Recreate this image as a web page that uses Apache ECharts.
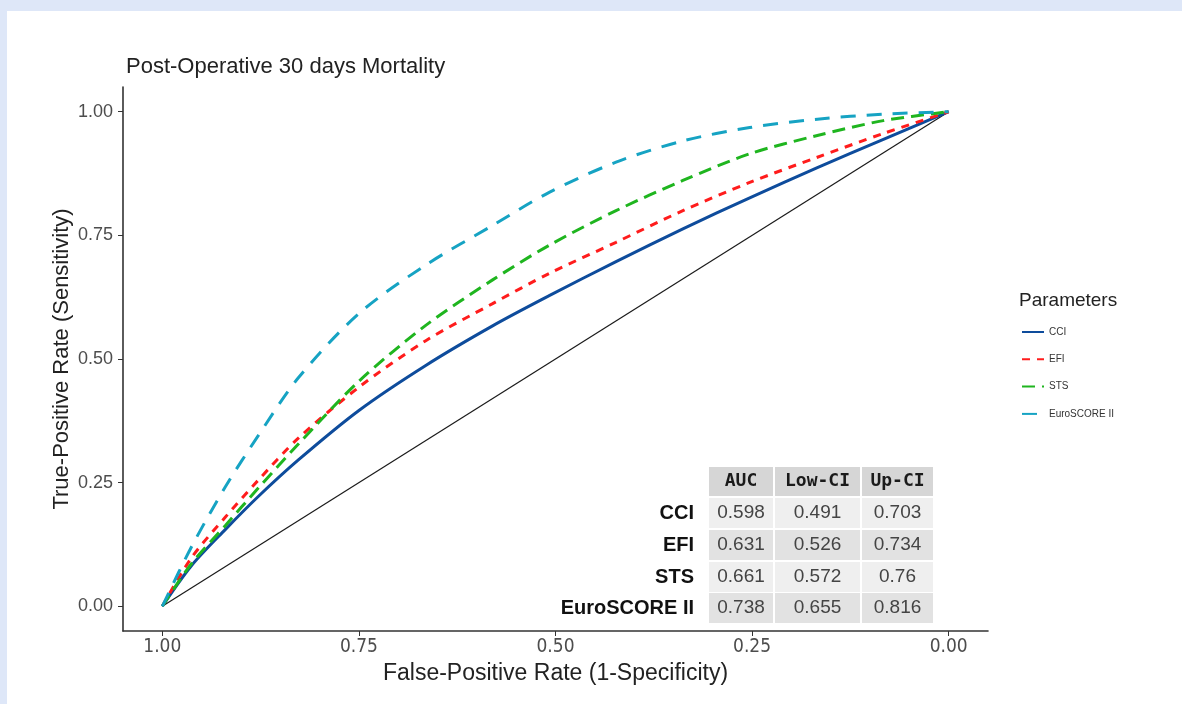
<!DOCTYPE html>
<html>
<head>
<meta charset="utf-8">
<script src="https://cdn.jsdelivr.net/npm/echarts@6/dist/echarts.min.js"></script>
<style>
html, body { margin: 0; padding: 0; background: #dee7f8; }
#panel { position: absolute; left: 7px; top: 11px; right: 0; bottom: 0; background: #fff; }
#chart { position: absolute; left: 0; top: 0; width: 1182px; height: 704px; }
</style>
</head>
<body>
<div id="panel"></div>
<div id="chart"></div>
<script>
// specificity (x, shown 1 -> 0) and sensitivity per score
const specificity = [1, 0.963, 0.92, 0.878, 0.827, 0.75, 0.665, 0.58, 0.508, 0.423, 0.338, 0.253, 0.167, 0.083, 0];
const cciSens  = [0, 0.082, 0.155, 0.222, 0.296, 0.396, 0.487, 0.567, 0.628, 0.697, 0.763, 0.826, 0.887, 0.944, 1];
const efiSens  = [0, 0.098, 0.180, 0.255, 0.340, 0.443, 0.537, 0.612, 0.673, 0.736, 0.800, 0.857, 0.908, 0.956, 1];
const stsSens  = [0, 0.086, 0.163, 0.239, 0.328, 0.455, 0.568, 0.660, 0.730, 0.800, 0.861, 0.915, 0.952, 0.982, 1];
const euroSens = [0, 0.120, 0.241, 0.345, 0.462, 0.592, 0.690, 0.770, 0.837, 0.898, 0.941, 0.968, 0.985, 0.995, 1];

const paramNames = ['CCI', 'EFI', 'STS', 'EuroSCORE II'];
const tableHead = ['AUC', 'Low-CI', 'Up-CI'];
const aucVals = ['0.598', '0.631', '0.661', '0.738'];
const lowCI = ['0.491', '0.526', '0.572', '0.655'];
const upCI = ['0.703', '0.734', '0.76', '0.816'];
const tickVals = [0, 0.25, 0.5, 0.75, 1];

const colors = ['#0e4c9c', '#ff1c1c', '#1fb51f', '#16a3c3'];
const dashes = ['solid', [8, 7], [13, 7], [15, 11]];
const sensList = [cciSens, efiSens, stsSens, euroSens];

const curve = (sens) => specificity.map((s, i) => [s, sens[i]]);

// stats table drawn with graphic rects + texts
const colX = [709, 775, 862];
const colW = [64, 85, 71];
const headY = 467, headH = 29;
const rowY = [498, 530, 562, 593];
const rowH = 30;
const rowFill = ['#efefef', '#e2e2e2', '#efefef', '#e2e2e2'];

const tableEls = [];
tableHead.forEach((h, c) => {
    tableEls.push({ type: 'rect', shape: { x: colX[c], y: headY, width: colW[c], height: headH }, style: { fill: '#d6d6d6' } });
    tableEls.push({
        type: 'text', x: colX[c] + colW[c] / 2, y: headY + headH / 2,
        style: { text: h, fill: '#1a1a1a', font: 'bold 18px "DejaVu Sans Mono", monospace', textAlign: 'center', textVerticalAlign: 'middle', align: 'center', verticalAlign: 'middle' }
    });
});
paramNames.forEach((name, r) => {
    const vals = [aucVals[r], lowCI[r], upCI[r]];
    tableEls.push({
        type: 'text', x: 694, y: rowY[r] + rowH / 2,
        style: { text: name, fill: '#111', font: 'bold 20px "Liberation Sans", Arial, sans-serif', textAlign: 'right', textVerticalAlign: 'middle', align: 'right', verticalAlign: 'middle' }
    });
    vals.forEach((v, c) => {
        tableEls.push({ type: 'rect', shape: { x: colX[c], y: rowY[r], width: colW[c], height: rowH }, style: { fill: rowFill[r] } });
        tableEls.push({
            type: 'text', x: colX[c] + colW[c] / 2, y: rowY[r] + rowH / 2,
            style: { text: v, fill: '#444', font: '19px "Liberation Sans", Arial, sans-serif', textAlign: 'center', textVerticalAlign: 'middle', align: 'center', verticalAlign: 'middle' }
        });
    });
});
// legend title
tableEls.push({
    type: 'text', x: 1019, y: 301,
    style: { text: 'Parameters', fill: '#222', font: '19px "Liberation Sans", Arial, sans-serif', textAlign: 'left', textVerticalAlign: 'middle', align: 'left', verticalAlign: 'middle' }
});

const myChart = echarts.init(document.getElementById('chart'));
const option = {
    animation: false,
    backgroundColor: 'transparent',
    title: {
        text: 'Post-Operative 30 days Mortality',
        left: 121, top: 51,
        textStyle: { fontFamily: '"Liberation Sans", Arial, sans-serif', fontSize: 22, fontWeight: 'normal', color: '#222' }
    },
    legend: {
        data: paramNames,
        orient: 'vertical',
        left: 1021, top: 327,
        padding: 0,
        itemWidth: 22, itemHeight: 10, itemGap: 17.3,
        itemStyle: { opacity: 0, borderWidth: 0 },
        textStyle: { fontFamily: '"Liberation Sans", Arial, sans-serif', fontSize: 10, color: '#333' }
    },
    grid: { left: 123, right: 194, top: 87, bottom: 73 },
    xAxis: {
        type: 'value', inverse: true, min: -0.05, max: 1.05,
        name: 'False-Positive Rate (1-Specificity)',
        nameLocation: 'middle', nameGap: 31, nameMoveOverlap: false,
        nameTextStyle: { fontFamily: '"Liberation Sans", Arial, sans-serif', fontSize: 23, color: '#222' },
        axisLine: { onZero: false, lineStyle: { color: '#333', width: 1.6 } },
        axisTick: { customValues: tickVals, length: 5, lineStyle: { color: '#333' } },
        axisLabel: {
            customValues: tickVals, margin: 7,
            formatter: (v) => v.toFixed(2),
            fontFamily: '"Liberation Sans Narrow", "DejaVu Sans Condensed", sans-serif', fontSize: 19, color: '#4d4d4d'
        },
        splitLine: { show: false }
    },
    yAxis: {
        type: 'value', min: -0.05, max: 1.05,
        name: 'True-Positive Rate (Sensitivity)',
        nameLocation: 'middle', nameGap: 50, nameMoveOverlap: false,
        nameTextStyle: { fontFamily: '"Liberation Sans", Arial, sans-serif', fontSize: 22, color: '#222' },
        axisLine: { show: true, onZero: false, lineStyle: { color: '#333', width: 1.6 } },
        axisTick: { show: true, customValues: tickVals, length: 5, lineStyle: { color: '#333' } },
        axisLabel: {
            customValues: tickVals, margin: 10,
            formatter: (v) => v.toFixed(2),
            fontFamily: '"Liberation Sans", Arial, sans-serif', fontSize: 18, color: '#4d4d4d'
        },
        splitLine: { show: false }
    },
    graphic: { elements: tableEls },
    series: [
        {
            name: 'diag', type: 'line', data: [[1, 0], [0, 1]], symbol: 'none', silent: true,
            lineStyle: { color: '#1a1a1a', width: 1.2 }, z: 1
        }
    ].concat(paramNames.map((name, i) => ({
        name: name,
        type: 'line',
        data: curve(sensList[i]),
        symbol: 'none',
        smooth: 0.3,
        color: colors[i],
        lineStyle: { color: colors[i], width: 3, type: dashes[i] },
        z: 2 + i
    })))
};
myChart.setOption(option);
</script>
</body>
</html>
